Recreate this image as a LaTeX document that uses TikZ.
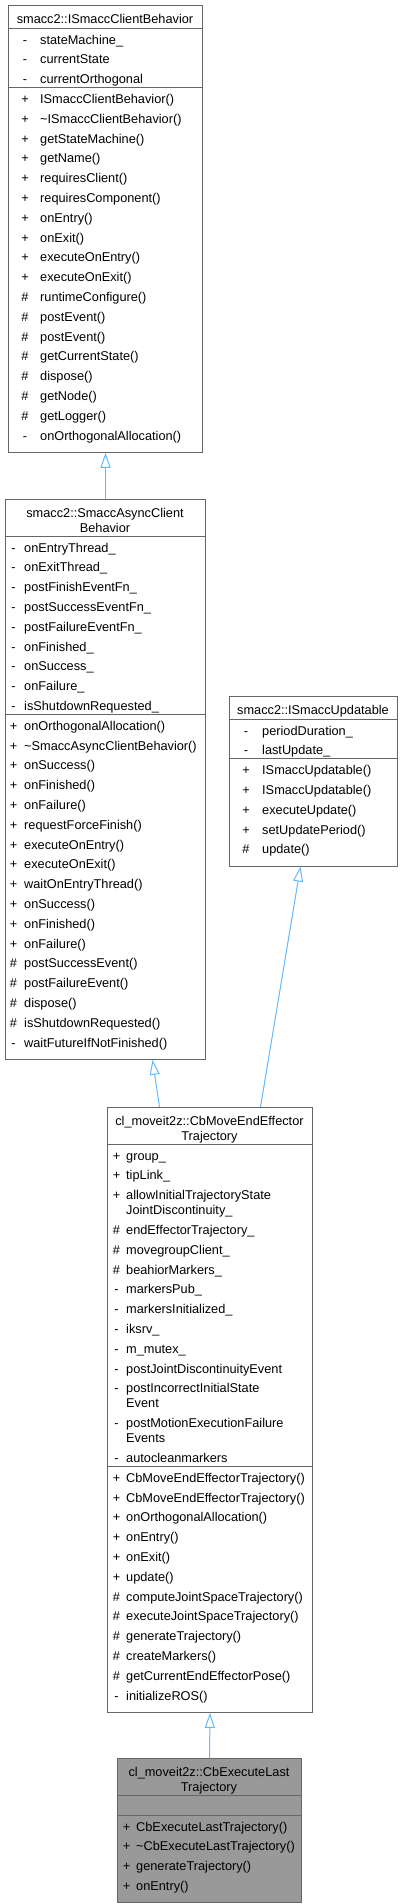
\documentclass[tikz,border=0pt]{standalone}
\usepackage{fontspec}
\setmainfont{Liberation Sans}
\usetikzlibrary{arrows.meta}

\definecolor{boxgray}{HTML}{666666}
\definecolor{leafgray}{HTML}{999999}
\definecolor{edgeblue}{HTML}{63B8FF}
\newcommand\umlfont{\fontsize{12.75}{15}\selectfont}

\begin{document}
\begin{tikzpicture}[x=1pt, y=-1pt,
    classbox/.style={draw=boxgray, line width=1pt, rectangle, inner sep=0pt, anchor=north west},
    divider/.style={boxgray, line width=1pt},
    title/.style={anchor=base, inner sep=0pt, font=\umlfont},
    sign/.style={anchor=base, inner sep=0pt, font=\umlfont},
    member/.style={anchor=base west, inner sep=0pt, font=\umlfont},
    inherit/.style={edgeblue, line width=1pt, -{Triangle[open, length=15pt, width=10pt]}}]
  \useasboundingbox (0,0) rectangle (405,1904);

  % smacc2::ISmaccClientBehavior (top).
  \node[classbox, minimum width=194pt, minimum height=446.8pt] (clientbehavior) at (8,5) {};
  \draw[divider] (8,28) -- (202,28);
  \draw[divider] (8,87.4) -- (202,87.4);
  \node[title] (clientbehavior-t) at (105,23.5) {smacc2::ISmaccClientBehavior};
  \foreach \s/\t [count=\i from 0] in {-/stateMachine\_, -/currentState, -/currentOrthogonal}
    {\node[sign] (cb-as\i) at (25,{44+19.8*\i}) {\s};
     \node[member] (cb-a\i) at (40,{44+19.8*\i}) {\t};}
  \foreach \s/\t [count=\i from 0] in {+/ISmaccClientBehavior(), +/\textasciitilde ISmaccClientBehavior(),
      +/getStateMachine(), +/getName(), +/requiresClient(), +/requiresComponent(), +/onEntry(),
      +/onExit(), +/executeOnEntry(), +/executeOnExit(), \#/runtimeConfigure(), \#/postEvent(),
      \#/postEvent(), \#/getCurrentState(), \#/dispose(), \#/getNode(), \#/getLogger(),
      -/onOrthogonalAllocation()}
    {\node[sign] (cb-ms\i) at (25,{103.4+19.8*\i}) {\s};
     \node[member] (cb-m\i) at (40,{103.4+19.8*\i}) {\t};}

  % smacc2::SmaccAsyncClientBehavior.
  \node[classbox, minimum width=200pt, minimum height=559.8pt] (asyncbehavior) at (5,499) {};
  \draw[divider] (5,536) -- (205,536);
  \draw[divider] (5,714.2) -- (205,714.2);
  \node[title] (asyncbehavior-t1) at (105,517) {smacc2::SmaccAsyncClient};
  \node[title] (asyncbehavior-t2) at (105,532) {Behavior};
  \foreach \s/\t [count=\i from 0] in {-/onEntryThread\_, -/onExitThread\_, -/postFinishEventFn\_,
      -/postSuccessEventFn\_, -/postFailureEventFn\_, -/onFinished\_, -/onSuccess\_,
      -/onFailure\_, -/isShutdownRequested\_}
    {\node[sign] (ab-as\i) at (13.5,{552+19.8*\i}) {\s};
     \node[member] (ab-a\i) at (24,{552+19.8*\i}) {\t};}
  \foreach \s/\t [count=\i from 0] in {+/onOrthogonalAllocation(), +/\textasciitilde SmaccAsyncClientBehavior(),
      +/onSuccess(), +/onFinished(), +/onFailure(), +/requestForceFinish(), +/executeOnEntry(),
      +/executeOnExit(), +/waitOnEntryThread(), +/onSuccess(), +/onFinished(), +/onFailure(),
      \#/postSuccessEvent(), \#/postFailureEvent(), \#/dispose(), \#/isShutdownRequested(),
      -/waitFutureIfNotFinished()}
    {\node[sign] (ab-ms\i) at (13.5,{730.2+19.8*\i}) {\s};
     \node[member] (ab-m\i) at (24,{730.2+19.8*\i}) {\t};}

  % smacc2::ISmaccUpdatable (right).
  \node[classbox, minimum width=168pt, minimum height=169.6pt] (updatable) at (229,696) {};
  \draw[divider] (229,719) -- (397,719);
  \draw[divider] (229,758.6) -- (397,758.6);
  \node[title] (updatable-t) at (313,714.5) {smacc2::ISmaccUpdatable};
  \foreach \s/\t [count=\i from 0] in {-/periodDuration\_, -/lastUpdate\_}
    {\node[sign] (up-as\i) at (246,{735+19.8*\i}) {\s};
     \node[member] (up-a\i) at (262,{735+19.8*\i}) {\t};}
  \foreach \s/\t [count=\i from 0] in {+/ISmaccUpdatable(), +/ISmaccUpdatable(), +/executeUpdate(),
      +/setUpdatePeriod(), \#/update()}
    {\node[sign] (up-ms\i) at (246,{774.6+19.8*\i}) {\s};
     \node[member] (up-m\i) at (262,{774.6+19.8*\i}) {\t};}

  % cl_moveit2z::CbMoveEndEffectorTrajectory.
  \node[classbox, minimum width=205pt, minimum height=604.8pt] (endeffector) at (107,1107) {};
  \draw[divider] (107,1144) -- (312,1144);
  \draw[divider] (107,1466.2) -- (312,1466.2);
  \node[title] (endeffector-t1) at (209.5,1125) {cl\_moveit2z::CbMoveEndEffector};
  \node[title] (endeffector-t2) at (209.5,1140) {Trajectory};
  \foreach \y/\s/\t [count=\i] in {1160/+/group\_, 1179.8/+/tipLink\_,
      1199.6/+/allowInitialTrajectoryState, 1214.6/{}/JointDiscontinuity\_,
      1234.4/\#/endEffectorTrajectory\_, 1254.2/\#/movegroupClient\_, 1274/\#/beahiorMarkers\_,
      1293.8/-/markersPub\_, 1313.6/-/markersInitialized\_, 1333.4/-/iksrv\_,
      1353.2/-/m\_mutex\_, 1373/-/postJointDiscontinuityEvent,
      1392.8/-/postIncorrectInitialState, 1407.8/{}/Event,
      1427.6/-/postMotionExecutionFailure, 1442.6/{}/Events, 1462.4/-/autocleanmarkers}
    {\node[sign] (ee-as\i) at (116.5,\y) {\s};
     \node[member] (ee-a\i) at (126,\y) {\t};}
  \foreach \s/\t [count=\i from 0] in {+/CbMoveEndEffectorTrajectory(), +/CbMoveEndEffectorTrajectory(),
      +/onOrthogonalAllocation(), +/onEntry(), +/onExit(), +/update(),
      \#/computeJointSpaceTrajectory(), \#/executeJointSpaceTrajectory(), \#/generateTrajectory(),
      \#/createMarkers(), \#/getCurrentEndEffectorPose(), -/initializeROS()}
    {\node[sign] (ee-ms\i) at (116.5,{1482.2+19.8*\i}) {\s};
     \node[member] (ee-m\i) at (126,{1482.2+19.8*\i}) {\t};}

  % cl_moveit2z::CbExecuteLastTrajectory (the documented class, filled).
  \node[classbox, fill=leafgray, minimum width=184pt, minimum height=144.2pt] (lasttraj) at (117,1758) {};
  \draw[divider] (117,1795) -- (301,1795);
  \draw[divider] (117,1815) -- (301,1815);
  \node[title] (lasttraj-t1) at (209,1776.5) {cl\_moveit2z::CbExecuteLast};
  \node[title] (lasttraj-t2) at (209,1791.5) {Trajectory};
  \foreach \s/\t [count=\i from 0] in {+/CbExecuteLastTrajectory(), +/\textasciitilde CbExecuteLastTrajectory(),
      +/generateTrajectory(), +/onEntry()}
    {\node[sign] (lt-ms\i) at (126.5,{1831+19.8*\i}) {\s};
     \node[member] (lt-m\i) at (136,{1831+19.8*\i}) {\t};}

  % Inheritance arrows.
  \draw[inherit] (asyncbehavior.north) -- (clientbehavior.south);
  \draw[inherit] ([xshift=-50.5pt]endeffector.north) -- ([xshift=47pt]asyncbehavior.south);
  \draw[inherit] ([xshift=50.5pt]endeffector.north) -- ([xshift=-13pt]updatable.south);
  \draw[inherit] (lasttraj.north) -- (endeffector.south);
\end{tikzpicture}
\end{document}
